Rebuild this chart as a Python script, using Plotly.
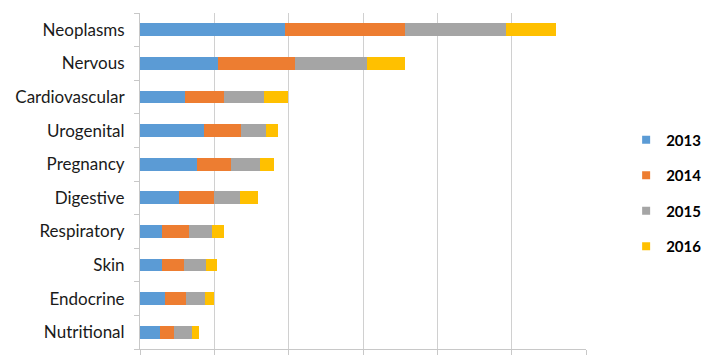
import plotly.graph_objects as go

categories = ["Neoplasms", "Nervous", "Cardiovascular", "Urogenital", "Pregnancy",
              "Digestive", "Respiratory", "Skin", "Endocrine", "Nutritional"]
years = ["2013", "2014", "2015", "2016"]
v2013 = [195, 105, 60, 86, 77, 52, 30, 29, 34, 27]
v2014 = [162, 104, 53, 50, 46, 48, 36, 30, 28, 19]
v2015 = [135, 96, 54, 33, 38, 34, 31, 30, 25, 24]
v2016 = [68, 52, 32, 17, 19, 25, 16, 15, 13, 9]
series = [v2013, v2014, v2015, v2016]
colors = ["#5b9bd5", "#ed7d31", "#a5a5a5", "#ffc000"]

fig = go.Figure()
for name, vals, col in zip(years, series, colors):
    fig.add_trace(go.Bar(y=categories, x=vals, orientation="h", name=name,
                         marker=dict(color=col, line=dict(width=0)),
                         showlegend=False))
for name, col in zip(years, colors):
    fig.add_trace(go.Scatter(x=[None], y=[None], mode="markers", name=name,
                             legendgroup=name,
                             marker=dict(symbol="square", size=8, color=col)))

fig.update_layout(
    barmode="stack",
    bargap=0.62,
    width=714, height=354,
    margin=dict(l=132, r=136, t=5, b=13, autoexpand=False),
    plot_bgcolor="white", paper_bgcolor="white",
    font=dict(family="Lato", size=17, color="#1a1a1a"),
    legend=dict(x=1.09, xanchor="left", y=0.464, yanchor="middle",
                font=dict(family="Lato", size=15, color="#000000", weight="bold"),
                tracegroupgap=13, traceorder="grouped", itemwidth=30),
    xaxis=dict(range=[0, 600], dtick=100, showticklabels=False,
               showgrid=True, gridcolor="#d0d0d0", gridwidth=1,
               showline=True, linecolor="#c8c8c8", ticks="outside",
               ticklen=5, tickcolor="#c8c8c8", zeroline=False, automargin=False),
    yaxis=dict(categoryorder="array", categoryarray=categories[::-1],
               showline=True, linecolor="#c8c8c8", ticks="outside",
               tickson="boundaries", ticklen=5, tickcolor="#c8c8c8",
               ticklabelstandoff=11, automargin=False),
)

fig.write_html("out.html")
